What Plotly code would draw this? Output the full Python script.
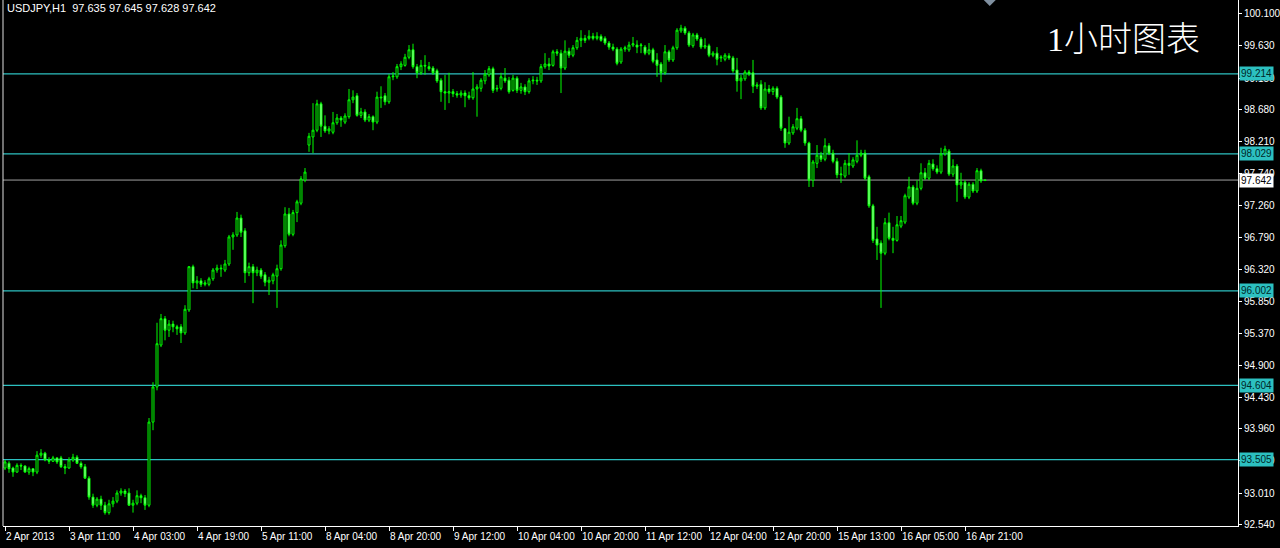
import plotly.graph_objects as go

# ---- data (USDJPY H1) ----
opens = [
93.38,93.45,93.38,93.32,93.42,93.41,93.32,93.37,93.32,93.57,
93.60,93.50,93.48,93.53,93.53,93.40,93.38,93.50,93.54,93.45,
93.40,93.23,92.95,92.83,92.92,92.83,92.72,92.85,92.89,93.01,
93.04,93.01,92.83,92.86,92.97,92.94,92.83,94.06,94.58,95.20,
95.59,95.42,95.51,95.47,95.47,95.38,95.72,96.36,96.12,96.15,
96.10,96.10,96.18,96.31,96.34,96.31,96.40,96.80,96.83,97.08,
96.89,96.27,96.36,96.27,96.31,96.24,96.13,96.15,96.22,96.33,
96.67,97.14,96.84,97.16,97.30,97.64,98.16,98.28,98.38,98.77,
98.44,98.37,98.35,98.49,98.56,98.50,98.58,98.83,98.89,98.60,
98.65,98.53,98.58,98.50,98.87,98.89,98.80,99.17,99.17,99.32,
99.34,99.46,99.57,99.32,99.23,99.34,99.32,99.30,99.26,99.12,
98.95,98.93,98.95,98.92,98.90,98.93,98.89,98.86,98.99,99.00,
99.11,99.20,99.29,98.99,99.00,99.15,99.12,98.97,99.15,98.97,
99.02,98.95,99.11,99.12,99.11,99.32,99.36,99.34,99.54,99.52,
99.30,99.55,99.49,99.60,99.71,99.74,99.74,99.77,99.74,99.77,
99.74,99.67,99.61,99.58,99.39,99.58,99.57,99.64,99.64,99.63,
99.61,99.52,99.57,99.42,99.36,99.23,99.54,99.42,99.60,99.85,
99.89,99.82,99.63,99.79,99.73,99.61,99.63,99.49,99.52,99.45,
99.43,99.48,99.45,99.27,99.11,99.14,99.24,99.23,99.03,99.06,
98.71,98.99,98.95,99.00,98.87,98.40,98.19,98.34,98.41,98.55,
98.38,98.19,97.64,97.89,98.01,97.95,98.15,98.04,97.92,97.72,
97.70,97.89,97.85,97.92,98.01,98.04,97.69,97.26,96.77,96.71,
96.56,97.01,96.78,96.75,96.96,97.02,97.39,97.54,97.30,97.52,
97.75,97.67,97.88,97.81,97.76,98.03,98.07,97.73,97.85,97.57,
97.61,97.39,97.58,97.48,97.78,97.635]
highs = [
93.50,93.48,93.40,93.45,93.45,93.42,93.40,93.38,93.63,93.66,
93.62,93.54,93.56,93.54,93.56,93.44,93.54,93.59,93.57,93.48,
93.44,93.26,93.00,92.95,92.97,92.88,92.91,92.95,93.05,93.08,
93.07,93.08,92.91,93.05,93.00,92.98,94.12,94.65,95.53,95.66,
95.63,95.57,95.56,95.50,95.51,95.79,96.37,96.39,96.22,96.19,
96.16,96.21,96.34,96.39,96.39,96.46,96.83,96.87,97.17,97.13,
96.93,96.42,96.40,96.36,96.34,96.28,96.21,96.27,96.39,96.75,
97.24,97.23,97.20,97.35,97.70,97.82,98.34,98.78,98.83,98.80,
98.60,98.44,98.65,98.62,98.59,98.63,98.99,98.97,98.93,98.71,
98.69,98.62,98.60,98.95,99.03,98.93,99.21,99.24,99.36,99.40,
99.51,99.64,99.66,99.36,99.42,99.49,99.39,99.33,99.29,99.15,
99.20,99.23,98.99,98.96,98.97,98.97,98.95,99.24,99.06,99.15,
99.27,99.33,99.32,99.05,99.23,99.30,99.17,99.20,99.18,99.08,
99.06,99.15,99.18,99.17,99.36,99.52,99.45,99.57,99.58,99.57,
99.71,99.60,99.64,99.76,99.86,99.79,99.86,99.82,99.83,99.80,
99.77,99.70,99.66,99.61,99.61,99.63,99.69,99.76,99.71,99.67,
99.64,99.67,99.60,99.52,99.39,99.64,99.57,99.63,99.89,99.94,
99.92,99.85,99.82,99.82,99.76,99.74,99.66,99.55,99.61,99.49,
99.52,99.52,99.48,99.45,99.20,99.27,99.27,99.42,99.09,99.12,
99.09,99.05,99.03,99.03,98.90,98.41,98.58,98.47,98.71,98.59,
98.41,98.21,97.94,98.16,98.06,98.26,98.19,98.09,97.97,97.84,
97.94,98.04,97.98,98.23,98.09,98.09,97.72,97.29,96.95,96.75,
97.08,97.16,96.95,97.11,97.11,97.44,97.69,97.57,97.64,97.89,
97.82,97.94,97.95,97.86,98.12,98.15,98.10,97.95,97.88,97.75,
97.64,97.61,97.61,97.82,97.81,97.645]
lows = [
93.35,93.31,93.25,93.31,93.35,93.31,93.28,93.26,93.29,93.53,
93.48,93.44,93.47,93.44,93.38,93.29,93.37,93.47,93.44,93.37,
93.22,92.91,92.79,92.80,92.76,92.69,92.69,92.80,92.86,92.97,
92.95,92.82,92.72,92.83,92.86,92.76,92.80,93.94,94.53,95.17,
95.27,95.32,95.39,95.35,95.23,95.35,95.69,96.04,96.03,96.06,
96.07,96.07,96.15,96.27,96.21,96.28,96.37,96.61,96.80,96.80,
96.12,96.22,95.82,96.22,96.18,96.07,95.94,96.10,95.75,96.30,
96.64,96.81,96.81,97.02,97.27,97.61,98.06,98.04,98.35,98.28,
98.34,98.32,98.32,98.46,98.43,98.47,98.55,98.78,98.58,98.56,
98.50,98.50,98.38,98.47,98.71,98.75,98.77,99.12,99.14,99.27,
99.32,99.43,99.29,99.15,99.20,99.20,99.26,99.20,99.08,98.80,
98.68,98.78,98.87,98.86,98.86,98.72,98.83,98.83,98.58,98.95,
99.06,99.17,98.93,98.95,98.97,99.08,98.92,98.95,98.93,98.92,
98.90,98.92,99.06,99.05,99.08,99.29,99.27,99.32,99.48,98.93,
99.27,99.45,99.46,99.57,99.61,99.67,99.71,99.71,99.71,99.69,
99.64,99.57,99.55,99.34,99.36,99.54,99.54,99.61,99.52,99.52,
99.49,99.49,99.37,99.17,99.09,99.20,99.39,99.39,99.57,99.82,
99.79,99.61,99.60,99.70,99.58,99.58,99.46,99.46,99.34,99.39,
99.40,99.42,99.23,98.95,98.84,99.11,99.18,98.93,98.99,98.68,
98.68,98.92,98.90,98.84,98.37,98.12,98.16,98.31,98.38,98.35,
98.15,97.54,97.54,97.82,97.91,97.92,98.01,97.89,97.67,97.60,
97.67,97.72,97.82,97.89,97.98,97.64,97.23,96.71,96.46,95.75,
96.53,96.75,96.56,96.73,96.93,96.99,97.36,97.27,97.27,97.49,
97.64,97.64,97.78,97.73,97.73,98.00,97.70,97.69,97.32,97.51,
97.36,97.36,97.45,97.45,97.60,97.628]
closes = [
93.47,93.37,93.32,93.42,93.41,93.32,93.37,93.32,93.57,93.60,
93.50,93.48,93.53,93.47,93.40,93.38,93.50,93.54,93.45,93.40,
93.23,92.95,92.83,92.92,92.83,92.72,92.85,92.89,93.01,93.04,
93.00,92.83,92.86,92.97,92.94,92.83,94.06,94.58,95.22,95.59,
95.42,95.51,95.47,95.44,95.38,95.73,96.36,96.12,96.15,96.10,
96.12,96.18,96.31,96.34,96.33,96.40,96.80,96.83,97.08,96.87,
96.27,96.36,96.27,96.31,96.22,96.13,96.16,96.24,96.33,96.68,
97.14,96.84,97.16,97.32,97.66,97.76,98.29,98.38,98.77,98.44,
98.37,98.40,98.49,98.56,98.53,98.59,98.83,98.87,98.60,98.65,
98.53,98.58,98.50,98.87,98.86,98.80,99.17,99.18,99.32,99.36,
99.46,99.57,99.32,99.23,99.34,99.33,99.29,99.23,99.11,98.95,
98.93,98.95,98.92,98.90,98.93,98.89,98.86,98.99,99.02,99.12,
99.21,99.29,98.97,99.00,99.17,99.11,98.95,99.15,98.97,99.02,
98.95,99.11,99.12,99.11,99.32,99.36,99.33,99.54,99.52,99.30,
99.55,99.49,99.60,99.71,99.74,99.71,99.77,99.74,99.77,99.71,
99.67,99.61,99.58,99.37,99.58,99.60,99.64,99.66,99.61,99.64,
99.52,99.57,99.40,99.34,99.23,99.54,99.42,99.60,99.86,99.89,
99.82,99.64,99.79,99.73,99.61,99.63,99.49,99.52,99.43,99.46,
99.49,99.45,99.26,99.11,99.15,99.24,99.21,99.03,99.05,98.71,
98.99,98.95,99.00,98.87,98.41,98.19,98.35,98.43,98.55,98.38,
98.19,97.64,97.91,98.01,97.95,98.15,98.04,97.92,97.72,97.73,
97.89,97.86,97.94,98.01,98.04,97.67,97.26,96.75,96.68,96.56,
97.01,96.78,96.75,96.98,97.04,97.41,97.54,97.30,97.52,97.75,
97.67,97.89,97.81,97.76,98.03,98.10,97.73,97.85,97.57,97.61,
97.39,97.58,97.48,97.78,97.63,97.642]

tick_bars = [0, 16, 32, 48, 64, 80, 96, 112, 128, 144, 160, 176, 192, 208, 224, 240]
tick_labels = ["2 Apr 2013", "3 Apr 11:00", "4 Apr 03:00", "4 Apr 19:00", "5 Apr 11:00",
               "8 Apr 04:00", "8 Apr 20:00", "9 Apr 12:00", "10 Apr 04:00", "10 Apr 20:00",
               "11 Apr 12:00", "12 Apr 04:00", "12 Apr 20:00", "15 Apr 13:00",
               "16 Apr 05:00", "16 Apr 21:00"]

price_ticks = [100.100, 99.630, 99.150, 98.680, 98.210, 97.740, 97.260, 96.790, 96.320,
               95.850, 95.370, 94.900, 94.430, 93.960, 93.490, 93.010, 92.540]

level_lines = [99.214, 98.029, 96.002, 94.604, 93.505]
last_price = 97.642
title_text = "USDJPY,H1  97.635 97.645 97.628 97.642"
chart_label = "1小时图表"

# ---- figure ----
bars = list(range(len(closes)))
CYAN = "#2CC0C0"
FONT = "Liberation Sans"

fig = go.Figure()
fig.add_trace(go.Candlestick(
    x=bars, open=opens, high=highs, low=lows, close=closes,
    increasing=dict(line=dict(color="#00FF00", width=1), fillcolor="#000000"),
    decreasing=dict(line=dict(color="#00FF00", width=1), fillcolor="#B4FFB4"),
    whiskerwidth=0, hoverinfo="skip", showlegend=False,
))

shapes = []
for lv in level_lines:
    shapes.append(dict(type="line", xref="paper", x0=0, x1=1, yref="y", y0=lv, y1=lv,
                       line=dict(color=CYAN, width=1.2), layer="below"))
shapes.append(dict(type="line", xref="paper", x0=0, x1=1, yref="y", y0=last_price, y1=last_price,
                   line=dict(color="#A0A0A0", width=1), layer="below"))
# left border
shapes.append(dict(type="line", xref="paper", x0=0, x1=0, yref="paper", y0=0, y1=1,
                   line=dict(color="#E0E0E0", width=1)))
# chart-shift marker
shapes.append(dict(type="path", xref="paper", yref="paper", xsizemode="pixel", ysizemode="pixel",
                   xanchor=0.799, yanchor=1, path="M -6,0 L 6,0 L 0,-6 Z",
                   fillcolor="#8090A0", line=dict(width=0)))

annotations = []
for b, t in zip(tick_bars, tick_labels):
    annotations.append(dict(x=b, xref="x", y=0, yref="paper", text=t, showarrow=False,
                            xanchor="left", yanchor="top", xshift=-1, yshift=-3,
                            font=dict(family=FONT, size=10, color="#FFFFFF")))
for lv in level_lines:
    annotations.append(dict(x=1, xref="paper", y=lv, yref="y", text=f"{lv:.3f}", showarrow=False,
                            xanchor="left", yanchor="middle", xshift=1, bgcolor=CYAN,
                            borderpad=1, font=dict(family=FONT, size=10, color="#002828")))
annotations.append(dict(x=1, xref="paper", y=last_price, yref="y", text=f"{last_price:.3f}",
                        showarrow=False, xanchor="left", yanchor="middle", xshift=1,
                        bgcolor="#FFFFFF", borderpad=1,
                        font=dict(family=FONT, size=10, color="#000000")))
annotations.append(dict(x=0, xref="paper", y=1, yref="paper", text=title_text, showarrow=False,
                        xanchor="left", yanchor="top", xshift=2, yshift=0,
                        font=dict(family=FONT, size=11, color="#FFFFFF")))
annotations.append(dict(x=0.907, xref="paper", y=0.924, yref="paper", text=chart_label,
                        showarrow=False, xanchor="center", yanchor="middle",
                        font=dict(family="Liberation Serif, Noto Sans CJK SC", size=34,
                                  color="#FFFFFF", weight=300)))

fig.update_layout(
    width=1280, height=548,
    paper_bgcolor="#000000", plot_bgcolor="#000000",
    margin=dict(l=3, r=42, t=0, b=22),
    showlegend=False,
    shapes=shapes, annotations=annotations,
    xaxis=dict(range=[-0.5, 308.25], rangeslider=dict(visible=False), showgrid=False,
               zeroline=False, tickvals=tick_bars, ticktext=[""] * len(tick_bars),
               ticks="outside", ticklen=4, tickcolor="#FFFFFF",
               showline=True, linecolor="#FFFFFF", linewidth=1, fixedrange=True),
    yaxis=dict(range=[92.522, 100.307], side="right", showgrid=False, zeroline=False,
               tickvals=price_ticks, ticktext=[f"{v:.3f}" for v in price_ticks],
               ticks="outside", ticklen=3, tickcolor="#FFFFFF",
               tickfont=dict(family=FONT, size=10, color="#FFFFFF"),
               showline=True, linecolor="#FFFFFF", linewidth=1, fixedrange=True),
)

fig.write_html("out.html", config={"displayModeBar": False},
               post_script="document.body.style.margin='0';document.body.style.background='#000';")
